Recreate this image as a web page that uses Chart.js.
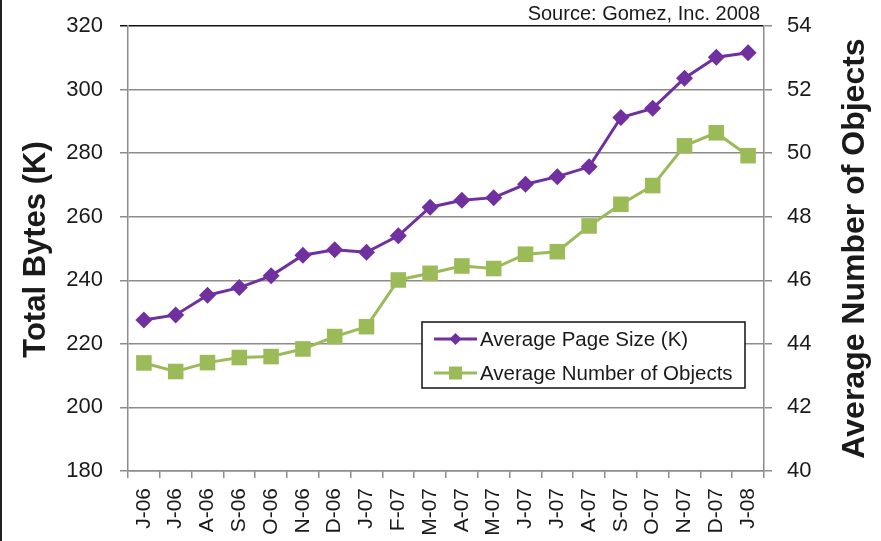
<!DOCTYPE html>
<html>
<head>
<meta charset="utf-8">
<script src="https://cdn.jsdelivr.net/npm/chart.js@4.4.0/dist/chart.umd.min.js"></script>
<style>
  html, body { margin: 0; padding: 0; background: #fff; }
  #wrap { position: relative; width: 881px; height: 541px; }
  #wrap::before { content: ''; position: absolute; left: 0; top: 0; bottom: 0; width: 2px; background: #222; z-index: 2; }
</style>
</head>
<body>
<div id="wrap"><canvas id="bytesChart" width="881" height="541"></canvas></div>
<script>
// Data
const months = ['J-06', 'J-06', 'A-06', 'S-06', 'O-06', 'N-06', 'D-06', 'J-07', 'F-07', 'M-07',
                'A-07', 'M-07', 'J-07', 'J-07', 'A-07', 'S-07', 'O-07', 'N-07', 'D-07', 'J-08'];
const pageSize = [227.5, 229.1, 235.3, 237.7, 241.4, 247.9, 249.6, 248.8, 254.0, 263.0,
                  265.2, 266.0, 270.2, 272.6, 275.7, 291.2, 294.1, 303.6, 310.2, 311.6];
const objectCount = [43.40, 43.13, 43.41, 43.57, 43.60, 43.84, 44.23, 44.54, 46.01, 46.22,
                     46.45, 46.37, 46.82, 46.90, 47.71, 48.39, 48.98, 50.23, 50.64, 49.92];
const bytesTicks = [180, 200, 220, 240, 260, 280, 300, 320];
const objectTicks = [40, 42, 44, 46, 48, 50, 52, 54];

const PURPLE = '#7030A0';
const GREEN = '#9BBB59';
const GRID = '#8c8c8c';
const TEXT = '#1a1a1a';
const FONT = '"Liberation Sans", Arial, sans-serif';

// pin the plot box: fixed axis size, no extra padding from tick labels
function pinScale(size) {
    return function(s) {
        if (s.isHorizontal()) s.height = size; else s.width = size;
        s.paddingTop = 0;
        s.paddingBottom = 0;
        s.paddingLeft = 0;
        s.paddingRight = 0;
    };
}

// Titles, source note and the boxed legend
const decorations = {
    id: 'decorations',
    afterDraw(chart) {
        const ctx = chart.ctx;
        const area = chart.chartArea;
        const midY = (area.top + area.bottom) / 2;

        ctx.save();
        ctx.fillStyle = TEXT;
        ctx.font = '20px ' + FONT;
        ctx.textAlign = 'right';
        ctx.textBaseline = 'alphabetic';
        ctx.fillText('Source: Gomez, Inc. 2008', area.right - 4, 20);

        ctx.font = 'bold 31px ' + FONT;
        ctx.textAlign = 'center';
        ctx.textBaseline = 'middle';
        ctx.translate(36, midY + 1);
        ctx.rotate(-Math.PI / 2);
        ctx.fillText('Total Bytes (K)', 0, 0);
        ctx.restore();

        ctx.save();
        ctx.fillStyle = TEXT;
        ctx.font = 'bold 32px ' + FONT;
        ctx.textAlign = 'center';
        ctx.textBaseline = 'middle';
        ctx.translate(855, midY);
        ctx.rotate(-Math.PI / 2);
        ctx.fillText('Average Number of Objects', 0, 0);
        ctx.restore();

        // legend box
        const bx = 422, by = 322, bw = 323, bh = 66;
        ctx.save();
        ctx.fillStyle = '#fff';
        ctx.fillRect(bx, by, bw, bh);
        ctx.strokeStyle = '#111';
        ctx.lineWidth = 1.5;
        ctx.strokeRect(bx, by, bw, bh);

        const rows = [
            { label: 'Average Page Size (K)', color: PURPLE, shape: 'diamond', y: by + 17 },
            { label: 'Average Number of Objects', color: GREEN, shape: 'square', y: by + 51 }
        ];
        rows.forEach(function(r) {
            ctx.strokeStyle = r.color;
            ctx.lineWidth = 3;
            ctx.beginPath();
            ctx.moveTo(bx + 12, r.y);
            ctx.lineTo(bx + 55, r.y);
            ctx.stroke();
            ctx.fillStyle = r.color;
            const cx = bx + 33.5;
            ctx.beginPath();
            if (r.shape === 'diamond') {
                ctx.moveTo(cx, r.y - 6);
                ctx.lineTo(cx + 6, r.y);
                ctx.lineTo(cx, r.y + 6);
                ctx.lineTo(cx - 6, r.y);
                ctx.closePath();
            } else {
                ctx.rect(cx - 6.5, r.y - 6.5, 13, 13);
            }
            ctx.fill();
            ctx.fillStyle = TEXT;
            ctx.font = '20.5px ' + FONT;
            ctx.textAlign = 'left';
            ctx.textBaseline = 'middle';
            ctx.fillText(r.label, bx + 58, r.y + 1);
        });
        ctx.restore();
    }
};

new Chart(document.getElementById('bytesChart'), {
    type: 'line',
    data: {
        labels: months,
        datasets: [{
            label: 'Average Page Size (K)',
            data: pageSize,
            yAxisID: 'yBytes',
            borderColor: PURPLE,
            backgroundColor: PURPLE,
            borderWidth: 3,
            pointStyle: 'rectRot',
            pointRadius: 8.5,
            pointBorderWidth: 0,
            tension: 0
        }, {
            label: 'Average Number of Objects',
            data: objectCount,
            yAxisID: 'yObjects',
            borderColor: GREEN,
            backgroundColor: GREEN,
            borderWidth: 3,
            pointStyle: 'rect',
            pointRadius: 11,
            pointBorderWidth: 0,
            tension: 0
        }]
    },
    options: {
        responsive: false,
        animation: false,
        layout: { padding: { top: 26, left: 0, right: 0, bottom: 0 } },
        plugins: {
            legend: { display: false },
            tooltip: { enabled: false }
        },
        scales: {
            x: {
                offset: true,
                grid: {
                    offset: true,
                    drawOnChartArea: false,
                    color: GRID,
                    lineWidth: 1.5,
                    tickLength: 7
                },
                border: { color: GRID, width: 1.5 },
                ticks: {
                    autoSkip: false,
                    minRotation: 90,
                    maxRotation: 90,
                    padding: 10,
                    color: TEXT,
                    font: { family: FONT, size: 21 }
                },
                afterFit: pinScale(70)
            },
            yBytes: {
                position: 'left',
                min: 180,
                max: 320,
                afterBuildTicks: function(s) { s.ticks = bytesTicks.map(v => ({ value: v })); },
                grid: {
                    color: ctx => ctx.tick && ctx.tick.value === 320 ? '#111' : GRID,
                    lineWidth: 1.5,
                    tickLength: 8
                },
                border: { color: GRID, width: 1.5 },
                ticks: {
                    padding: 17,
                    color: TEXT,
                    font: { family: FONT, size: 22 }
                },
                afterFit: pinScale(128)
            },
            yObjects: {
                position: 'right',
                min: 40,
                max: 54,
                afterBuildTicks: function(s) { s.ticks = objectTicks.map(v => ({ value: v })); },
                grid: {
                    drawOnChartArea: false,
                    color: GRID,
                    lineWidth: 1.5,
                    tickLength: 8
                },
                border: { color: GRID, width: 1.5 },
                ticks: {
                    padding: 15,
                    color: TEXT,
                    font: { family: FONT, size: 22 }
                },
                afterFit: pinScale(117)
            }
        }
    },
    plugins: [decorations]
});
</script>
</body>
</html>
